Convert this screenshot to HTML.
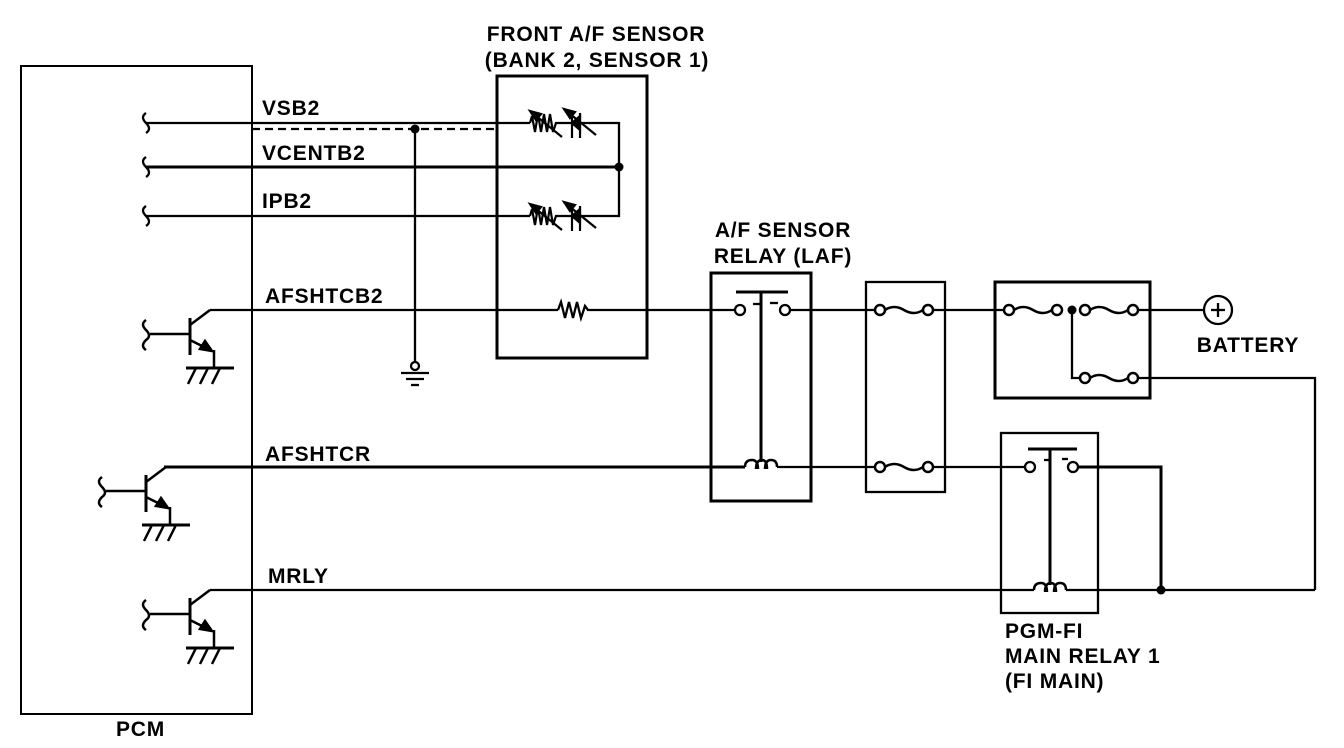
<!DOCTYPE html>
<html><head><style>
html,body{margin:0;padding:0;background:#fff}
svg{display:block}
text{font-family:"Liberation Sans",Arial,sans-serif;font-weight:bold;font-size:21px;letter-spacing:0.8px;fill:#000}
</style></head><body>
<svg width="1344" height="748" viewBox="0 0 1344 748" xmlns="http://www.w3.org/2000/svg">
<defs>
<g id="tr" fill="none" stroke="#000" stroke-width="2.5">
  <line x1="0" y1="8" x2="0" y2="45" stroke-width="3"/>
  <line x1="-40" y1="24" x2="0" y2="24"/>
  <path d="M-44 10 Q-50 14 -44 20 Q-38 26 -44 30 Q-50 36 -44 40"/>
  <line x1="0" y1="15" x2="20" y2="0"/>
  <line x1="0" y1="30" x2="22" y2="41"/>
  <polygon points="22,41 10,39 15,31" fill="#000"/>
  <line x1="24" y1="40" x2="24" y2="58"/>
  <line x1="-4" y1="58" x2="44" y2="58" stroke-width="3"/>
  <line x1="6" y1="58" x2="-2" y2="74"/>
  <line x1="18" y1="58" x2="10" y2="74"/>
  <line x1="30" y1="58" x2="22" y2="74"/>
</g>
<g id="fuse" fill="none" stroke="#000" stroke-width="2.5">
  <circle cx="0" cy="0" r="5" fill="#fff"/>
  <path d="M5 0 Q14 -6 24 0 Q34 6 43 0"/>
  <circle cx="48" cy="0" r="5" fill="#fff"/>
</g>
<g id="sens" fill="none" stroke="#000" stroke-width="2.2">
  <path d="M0 0 L2 -7 L5 9 L8 -9 L11 9 L14 -9 L17 9 L20 -9 L23 9 L26 0 L40 0"/>
  <line x1="0" y1="-12" x2="32" y2="14"/>
  <polygon points="0,-12 11,-9 6,-3" fill="#000"/>
  <line x1="42" y1="-10" x2="42" y2="15"/>
  <line x1="50" y1="-10" x2="50" y2="15"/>
  <line x1="40" y1="0" x2="50" y2="0"/>
  <polygon points="42,0 50,-7 50,7" fill="#000"/>
  <line x1="34" y1="-14" x2="66" y2="12"/>
  <polygon points="34,-14 45,-11 40,-5" fill="#000"/>
</g>
<g id="coil" fill="none" stroke="#000" stroke-width="2.5">
  <path d="M-16 0 Q-16 -7 -9 -7 Q-3 -7 -3 2 M-5 2 Q-5 -7 1 -7 Q6 -7 6 2 M4 2 Q4 -7 10 -7 Q16 -7 16 0"/>
</g>
</defs>

<rect x="21" y="66" width="231" height="648" fill="none" stroke="#000" stroke-width="2"/>
<text x="116" y="736">PCM</text>

<g fill="none" stroke="#000" stroke-width="2.3">
<path d="M146 113 Q140 117 146 123 Q152 129 146 133"/>
<path d="M146 157 Q140 161 146 167 Q152 173 146 177"/>
<path d="M146 206 Q140 210 146 216 Q152 222 146 226"/>
<line x1="146" y1="123" x2="530" y2="123"/>
<line x1="146" y1="167" x2="619" y2="167" stroke-width="3"/>
<line x1="146" y1="216" x2="530" y2="216"/>
<line x1="252" y1="129" x2="497" y2="129" stroke-dasharray="8,5"/>
<line x1="415" y1="129" x2="415" y2="362"/>
<circle cx="415" cy="366" r="4"/>
<line x1="401" y1="373" x2="429" y2="373"/>
<line x1="406" y1="379" x2="424" y2="379"/>
<line x1="411" y1="385" x2="419" y2="385"/>
<rect x="497" y="76" width="150" height="282" stroke-width="3"/>
<polyline points="580,123 619,123 619,216 580,216"/>
<line x1="210" y1="310" x2="558" y2="310"/>
<path d="M558 310 L561 302 L565 318 L569 302 L573 318 L577 302 L581 318 L585 306 L588 310 L740 310"/>
<line x1="164" y1="467" x2="745" y2="467" stroke-width="3"/>
<line x1="210" y1="590" x2="1034" y2="590"/>
<line x1="1066" y1="590" x2="1315" y2="590"/>
<rect x="711" y="273" width="100" height="228" stroke-width="3"/>
<line x1="736" y1="292" x2="788" y2="292" stroke-width="3"/>
<line x1="761" y1="292" x2="761" y2="462" stroke-width="3"/>
<line x1="753" y1="304" x2="760" y2="304"/><line x1="770" y1="303" x2="778" y2="303"/>
<circle cx="740" cy="310" r="5" fill="#fff"/>
<circle cx="785" cy="310" r="5" fill="#fff"/>
<line x1="790" y1="310" x2="880" y2="310"/>
<line x1="777" y1="467" x2="880" y2="467"/>
<rect x="866" y="282" width="79" height="210"/>
<line x1="933" y1="310" x2="1009" y2="310"/>
<line x1="933" y1="467" x2="1029" y2="467"/>
<rect x="995" y="282" width="155" height="116" stroke-width="3"/>
<polyline points="1072,310 1072,378 1085,378"/>
<line x1="1137" y1="310" x2="1204" y2="310"/>
<polyline points="1137,378 1315,378 1315,590"/>
<circle cx="1218" cy="310" r="14"/>
<line x1="1211" y1="310" x2="1225" y2="310"/><line x1="1218" y1="303" x2="1218" y2="317"/>
<rect x="1001" y="433" width="97" height="180"/>
<line x1="1028" y1="449" x2="1077" y2="449" stroke-width="3"/>
<line x1="1050" y1="449" x2="1050" y2="585" stroke-width="3"/>
<line x1="1044" y1="460" x2="1050" y2="460"/><line x1="1062" y1="459" x2="1068" y2="459"/>
<circle cx="1030" cy="467" r="5" fill="#fff"/>
<circle cx="1073" cy="467" r="5" fill="#fff"/>
<polyline points="1078,467 1161,467 1161,590" stroke-width="3"/>
</g>
<use href="#fuse" x="880" y="310"/>
<use href="#fuse" x="880" y="467"/>
<use href="#fuse" x="1009" y="310"/>
<use href="#fuse" x="1085" y="310"/>
<use href="#fuse" x="1085" y="378"/>
<use href="#coil" x="761" y="467"/>
<use href="#coil" x="1050" y="590"/>
<use href="#sens" x="530" y="123"/>
<use href="#sens" x="530" y="216"/>
<use href="#tr" x="190" y="310"/>
<use href="#tr" x="146" y="467"/>
<use href="#tr" x="190" y="590"/>
<g fill="#000">
<circle cx="415" cy="129" r="4.5"/>
<circle cx="619" cy="167" r="4.5"/>
<circle cx="1072" cy="310" r="4.5"/>
<circle cx="1161" cy="590" r="4.5"/>
</g>

<text x="262" y="115">VSB2</text>
<text x="262" y="160">VCENTB2</text>
<text x="262" y="208">IPB2</text>
<text x="265" y="303">AFSHTCB2</text>
<text x="265" y="461">AFSHTCR</text>
<text x="268" y="583">MRLY</text>
<text x="596" y="41" text-anchor="middle">FRONT A/F SENSOR</text>
<text x="597" y="67" text-anchor="middle">(BANK 2, SENSOR 1)</text>
<text x="783" y="237" text-anchor="middle">A/F SENSOR</text>
<text x="783" y="263" text-anchor="middle">RELAY (LAF)</text>
<text x="1248" y="352" text-anchor="middle">BATTERY</text>
<text x="1005" y="638">PGM-FI</text>
<text x="1005" y="663">MAIN RELAY 1</text>
<text x="1005" y="688">(FI MAIN)</text>
</svg>
</body></html>
